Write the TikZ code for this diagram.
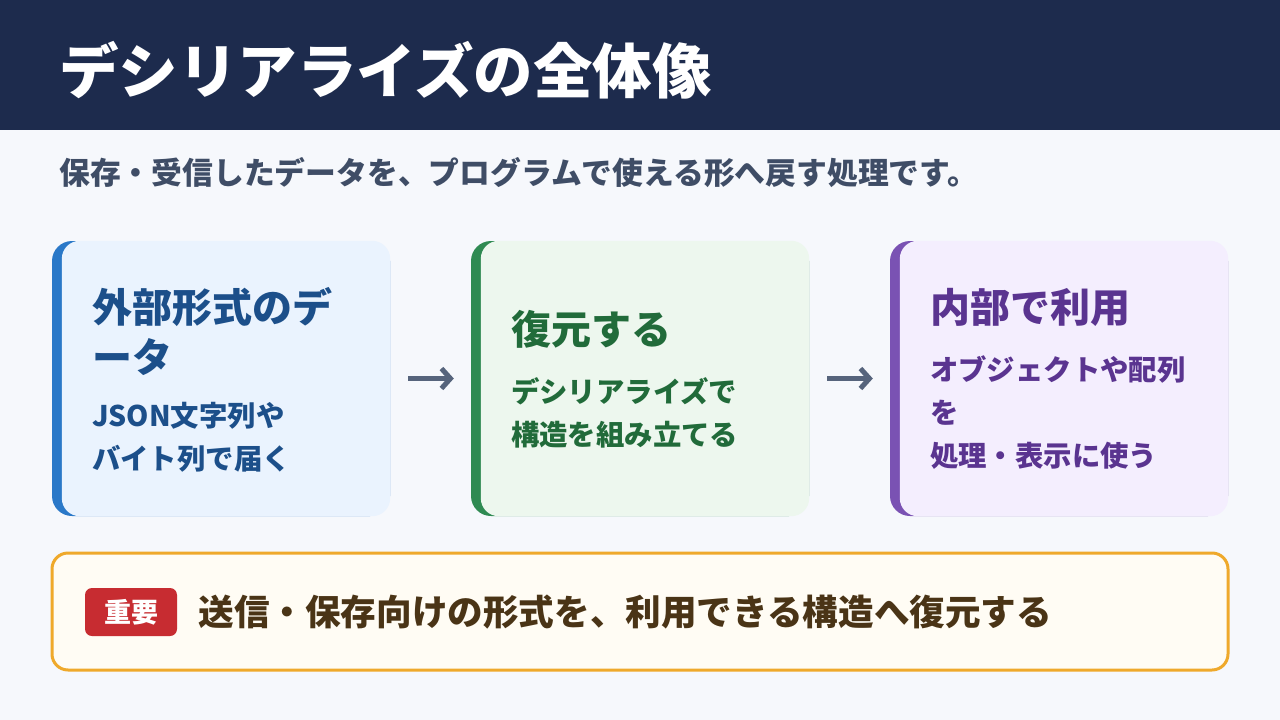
\documentclass[tikz,border=0pt]{standalone}
\usepackage{fontspec}
\setmainfont{Noto Sans CJK JP}
\usepackage{tikz}
\usetikzlibrary{positioning,arrows.meta}

\definecolor{hdrbg}{HTML}{1D2B4D}
\definecolor{pagebg}{HTML}{F6F8FC}
\definecolor{subtxt}{HTML}{3F4D66}
\definecolor{bluebar}{HTML}{2A78C8}
\definecolor{bluefill}{HTML}{EAF3FE}
\definecolor{bluetxt}{HTML}{1C4F8A}
\definecolor{greenbar}{HTML}{2F8A52}
\definecolor{greenfill}{HTML}{EDF7EE}
\definecolor{greentxt}{HTML}{216B3A}
\definecolor{purplebar}{HTML}{7A52B3}
\definecolor{purplefill}{HTML}{F4EEFE}
\definecolor{purpletxt}{HTML}{5A3490}
\definecolor{arrowgray}{HTML}{56647C}
\definecolor{notefill}{HTML}{FFFCF4}
\definecolor{noteline}{HTML}{EFA92B}
\definecolor{notetxt}{HTML}{4A3416}
\definecolor{badgered}{HTML}{C72C31}

\begin{document}
\begin{tikzpicture}[
  x=1pt, y=-1pt,
  card/.style={rectangle, rounded corners=20pt, minimum width=338pt, minimum height=275pt, fill=#1, inner sep=0pt},
  cardttl/.style={text=#1, font=\fontsize{40}{50}\selectfont\bfseries, align=left, inner sep=0pt},
  cardbody/.style={text=#1, font=\fontsize{28.4}{43}\selectfont\bfseries, align=left, inner sep=0pt},
  arr/.style={-{Straight Barb[length=9pt, width=20pt]}, line width=5pt, arrowgray, shorten <=18pt, shorten >=17pt},
  note/.style={rectangle, rounded corners=16pt, minimum width=1176pt, minimum height=117pt, draw=noteline, line width=3pt, fill=notefill},
  badge/.style={rectangle, rounded corners=7pt, minimum width=92pt, minimum height=48pt, fill=badgered, text=white, font=\fontsize{27}{30}\selectfont\bfseries, inner sep=0pt}]
  \useasboundingbox (0,0) rectangle (1280,720);
  \fill[pagebg] (0,0) rectangle (1280,720);
  \fill[hdrbg] (0,0) rectangle (1280,130);
  % title and lead
  \node[anchor=base west, inner sep=0pt, text=white, font=\fontsize{59.5}{64}\selectfont\bfseries] (title) at (59,93) {デシリアライズの全体像};
  \node[anchor=base west, inner sep=0pt, text=subtxt, font=\fontsize{30.8}{36}\selectfont\bfseries] (lead) at (59,184) {保存・受信したデータを、プログラムで使える形へ戻す処理です。};
  % three cards
  \node[card=bluebar] (c1) at (221,378.5) {};
  \node[card=greenbar] (c2) at (640,378.5) {};
  \node[card=purplebar] (c3) at (1059,378.5) {};
  \foreach \c/\f in {c1/bluefill, c2/greenfill, c3/purplefill}
    \fill[\f, rounded corners=18pt] ([xshift=10pt]\c.south west) rectangle (\c.north east);
  \node[cardttl=bluetxt, below right=46pt and 40pt of c1.north west] (t1) {外部形式のデ\\ータ};
  \node[cardbody=bluetxt, below=27pt of t1.south west, anchor=north west] (b1) {JSON文字列や\\バイト列で届く};
  \node[cardttl=greentxt, below right=69pt and 40pt of c2.north west] (t2) {復元する};
  \node[cardbody=greentxt, below=29pt of t2.south west, anchor=north west] (b2) {デシリアライズで\\構造を組み立てる};
  \node[cardttl=purpletxt, below right=47pt and 40pt of c3.north west] (t3) {内部で利用};
  \node[cardbody=purpletxt, below=29pt of t3.south west, anchor=north west] (b3) {オブジェクトや配列\\を\\処理・表示に使う};
  \draw[arr] (c1) -- (c2);
  \draw[arr] (c2) -- (c3);
  % key point
  \node[note] (key) at (640,611.5) {};
  \node[badge] (imp) at (131,612) {重要};
  \node[right=21pt of imp, inner sep=0pt, text=notetxt, font=\fontsize{35.6}{40}\selectfont\bfseries] (keytxt) {送信・保存向けの形式を、利用できる構造へ復元する};
\end{tikzpicture}
\end{document}
